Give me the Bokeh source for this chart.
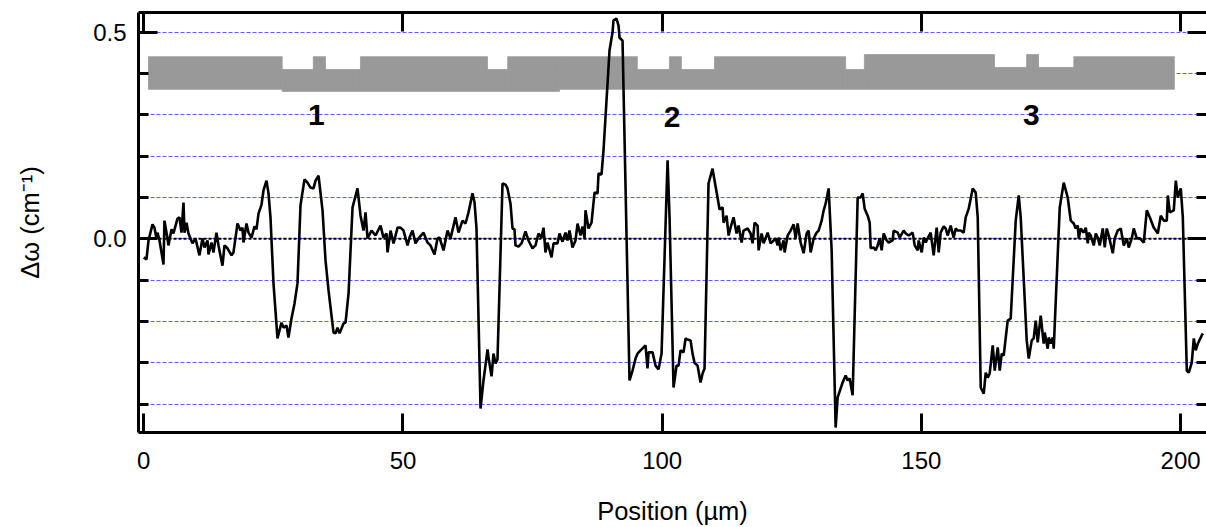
from bokeh.plotting import figure
from bokeh.models import (Range1d, LinearAxis, SingleIntervalTicker,
                          PrintfTickFormatter, Span, ColumnDataSource)
from bokeh.core.properties import value
from bokeh.embed import file_html
from bokeh.resources import INLINE

# ---------------- data: Raman shift profile ----------------
pos_a = [0.00, 0.52, 0.91, 1.68, 2.06, 2.45, 2.64, 3.03, 3.80, 3.99,
         4.57, 4.76, 5.34, 5.72, 6.50, 6.89, 7.27, 7.66, 7.85, 8.24,
         8.62, 9.39, 9.97, 10.74, 11.32, 11.71, 12.29, 12.48, 13.06, 13.44,
         14.02, 14.41, 15.18, 15.57, 16.15, 16.92, 17.30, 18.08, 18.66, 19.04,
         19.23, 19.81, 20.20, 20.78, 21.36, 21.74, 22.13, 22.71, 23.09, 23.67,
         24.06, 24.44, 25.02, 25.79, 26.56, 26.95, 27.53, 27.91, 28.49, 29.07,
         29.65, 30.23, 31.00, 31.58, 32.16, 32.74, 33.13, 33.71, 34.48, 35.06,
         35.64, 36.60, 36.99, 37.37, 37.76, 38.53, 38.92, 39.50, 40.27, 41.23,
         41.81, 42.39, 42.77, 43.16, 43.93, 44.70, 45.67, 46.24, 46.82, 47.02,
         47.60, 48.18, 48.95]
shift_a = [-0.045, -0.050, -0.004, 0.035, 0.027, 0.001, 0.015, -0.004, -0.062, 0.044,
           0.001, -0.016, 0.023, 0.013, 0.049, 0.052, 0.015, 0.088, 0.015, 0.039,
           0.013, -0.011, 0.001, -0.040, 0.001, -0.021, -0.004, -0.038, -0.009, -0.033,
           0.015, -0.016, -0.065, -0.016, -0.023, -0.040, -0.033, 0.037, 0.020, 0.027,
           -0.009, 0.037, 0.015, 0.003, 0.030, 0.023, 0.061, 0.083, 0.117, 0.141,
           0.110, 0.052, -0.108, -0.241, -0.203, -0.215, -0.210, -0.239, -0.193, -0.157,
           -0.108, 0.081, 0.144, 0.136, 0.124, 0.122, 0.141, 0.153, 0.069, -0.053,
           -0.125, -0.227, -0.229, -0.215, -0.229, -0.205, -0.203, -0.132, 0.076, 0.122,
           0.056, 0.020, 0.064, 0.001, 0.020, 0.008, 0.032, 0.003, 0.013, -0.033,
           0.020, -0.011, 0.027]

pos_b = [49.52, 50.10, 50.88, 51.26, 51.84, 52.42, 53.00,
         53.96, 54.73, 55.31, 56.08, 56.66, 57.05, 57.82, 58.59, 59.17, 60.13,
         60.71, 61.48, 62.06, 62.64, 63.41, 63.80, 64.18, 64.96, 65.53, 66.31,
         66.50, 67.08, 67.46, 67.85, 68.23, 69.20, 69.78, 70.16, 70.74, 71.13,
         71.51, 71.70, 72.28, 72.86, 73.25, 73.63, 74.21, 74.98, 75.56, 76.14,
         76.72, 77.11, 77.49, 77.88, 78.65, 79.04, 79.81, 80.19, 80.77, 81.35,
         81.74, 82.12, 82.70, 83.28, 83.67, 84.25, 84.63, 85.02, 85.21, 85.79,
         86.37, 86.95, 87.53, 87.72, 88.30, 88.68, 89.84, 90.42, 90.61, 91.19,
         91.58, 91.77, 92.35, 93.70, 94.28, 94.86, 95.24, 95.82, 96.40, 96.79,
         97.17, 97.37, 98.14, 98.72, 99.30, 99.88, 101.04, 101.42, 102.19, 102.77,
         103.16, 103.54, 104.12, 104.51, 104.89, 105.47, 105.86, 106.24, 106.82, 107.40,
         107.79, 108.17, 108.94, 109.71, 110.10, 110.68, 111.07, 111.65, 111.84, 112.42,
         112.81, 113.19, 113.77, 114.35, 114.74, 115.32, 115.70, 116.48, 117.05, 117.44,
         117.83, 118.41, 118.60, 119.18, 119.57, 120.34, 120.92, 121.50, 121.88, 122.27,
         122.46, 122.85, 123.43, 123.62, 124.20, 124.78, 125.36, 125.74, 126.13, 126.71]
shift_b = [0.027, 0.020, -0.016, 0.003, 0.020, -0.011, 0.001,
           0.015, -0.009, -0.016, -0.038, 0.001, 0.003, -0.028, 0.020, 0.001, 0.052,
           0.015, 0.044, 0.037, 0.064, 0.110, 0.088, 0.025, -0.411, -0.343, -0.268,
           -0.287, -0.333, -0.278, -0.302, -0.292, 0.134, 0.131, 0.122, 0.085, 0.025,
           0.023, -0.016, -0.019, -0.011, 0.003, 0.018, -0.004, -0.023, -0.016, 0.013,
           0.003, 0.027, -0.033, -0.009, -0.045, -0.011, -0.011, 0.013, -0.007, 0.015,
           -0.004, 0.020, -0.021, -0.004, 0.037, 0.008, 0.030, 0.001, 0.069, 0.025,
           0.039, 0.112, 0.110, 0.158, 0.156, 0.214, 0.456, 0.500, 0.529, 0.533,
           0.516, 0.487, 0.480, -0.343, -0.319, -0.290, -0.278, -0.270, -0.263, -0.258,
           -0.314, -0.275, -0.275, -0.307, -0.316, -0.278, 0.190, 0.052, -0.360, -0.307,
           -0.307, -0.270, -0.275, -0.241, -0.244, -0.246, -0.278, -0.300, -0.307, -0.348,
           -0.326, -0.314, 0.134, 0.170, 0.141, 0.100, 0.071, 0.076, 0.039, 0.056,
           0.008, 0.027, 0.052, 0.013, 0.032, -0.009, 0.020, 0.025, 0.013, -0.011,
           0.039, 0.032, -0.028, 0.013, -0.011, 0.015, -0.011, -0.004, 0.001, -0.016,
           0.003, -0.028, -0.004, -0.033, 0.008, 0.020, 0.035, 0.001, 0.037, -0.009]

pos_c = [127.29, 127.86, 128.25, 128.64, 129.22, 129.79, 130.18, 130.76, 131.15, 131.53,
         132.11, 132.69, 133.46, 133.85, 134.81, 135.39, 135.78, 136.16, 136.74, 137.71,
         138.29, 138.67, 139.06, 139.64, 140.03, 140.22, 140.80, 141.18, 141.57, 141.95,
         142.34, 142.73, 143.31, 143.69, 144.46, 144.65, 145.43, 145.81, 146.58, 146.97,
         147.55, 148.32, 148.71, 149.29, 149.48, 150.06, 150.44, 150.83, 151.22, 151.79,
         152.37, 152.95, 153.34, 153.72, 154.30, 154.69, 155.07, 155.65, 156.23, 156.62,
         157.00, 157.58, 158.16, 158.55, 159.13, 159.90, 160.48, 160.87, 161.45, 162.03,
         162.41, 162.80, 163.18, 163.76, 164.15, 164.73, 165.11, 165.50, 165.88, 166.65,
         167.23, 168.20, 168.78, 169.16, 170.32, 170.71, 171.29, 171.67, 172.06, 172.44,
         173.02, 173.60, 173.79, 174.37, 174.57, 174.95, 175.34, 175.53, 176.69, 177.46,
         178.23, 178.81, 179.39, 179.78, 180.16, 180.36, 180.74, 181.32, 181.71, 182.09,
         182.29, 182.67, 183.25, 183.64, 184.02, 184.41, 184.99, 185.37, 185.76, 186.14,
         186.92, 187.30, 187.88, 188.46, 189.04, 189.62, 190.00, 190.58, 190.97, 191.55,
         192.13, 192.90, 193.48, 194.06, 194.83, 195.22, 195.60, 196.18, 196.76, 197.34,
         197.54, 197.92, 198.69, 199.08, 199.46, 200.04, 200.43, 201.20, 201.58, 202.16,
         202.55, 202.93, 203.32, 204.28]
shift_c = [-0.035, 0.013, 0.020, -0.033, 0.001, 0.015, 0.020, 0.044, 0.069, 0.085,
           0.122, -0.028, -0.457, -0.384, -0.348, -0.331, -0.343, -0.338, -0.379, 0.100,
           0.100, 0.110, 0.073, 0.056, 0.039, -0.023, -0.021, -0.028, -0.016, 0.001,
           -0.028, 0.013, -0.004, -0.009, -0.004, 0.020, 0.015, 0.003, 0.020, 0.013,
           0.008, 0.015, -0.016, -0.028, -0.004, -0.033, 0.003, -0.009, 0.001, 0.015,
           -0.040, 0.027, -0.033, 0.015, 0.030, 0.025, 0.008, 0.032, 0.003, 0.025,
           0.020, 0.020, 0.015, 0.052, 0.073, 0.122, 0.112, 0.052, -0.360, -0.375,
           -0.324, -0.336, -0.326, -0.258, -0.319, -0.263, -0.319, -0.278, -0.283, -0.198,
           -0.193, 0.044, 0.105, 0.052, -0.246, -0.290, -0.246, -0.241, -0.198, -0.251,
           -0.186, -0.254, -0.227, -0.266, -0.239, -0.254, -0.239, -0.266, 0.076, 0.136,
           0.100, 0.044, 0.037, 0.025, 0.032, 0.001, 0.025, 0.015, 0.027, -0.011,
           0.015, 0.008, -0.016, 0.013, 0.003, -0.016, 0.025, -0.021, 0.025, 0.008,
           -0.035, 0.001, 0.020, 0.025, -0.016, 0.001, -0.021, 0.001, 0.025, 0.001,
           0.001, -0.009, 0.069, 0.052, 0.027, 0.020, 0.013, 0.056, 0.044, 0.044,
           0.105, 0.064, 0.069, 0.141, 0.100, 0.122, 0.052, -0.319, -0.324, -0.300,
           -0.241, -0.270, -0.254, -0.229]

# ---------------- data: schematic of the structure (gray blocks) ----------------
block_left = [0.9, 26.7, 32.7, 35.05, 41.8, 66.3, 70.2, 80.2, 95.2,
              101.4, 103.7, 110.1, 135.4, 139.0, 164.1, 170.3, 172.6, 179.4]
block_right = [26.7, 32.7, 35.05, 41.8, 66.3, 70.2, 80.2, 95.2, 101.4,
               103.7, 110.1, 135.4, 139.0, 164.1, 170.3, 172.6, 179.4, 198.8]
block_top = [0.441, 0.410, 0.441, 0.410, 0.441, 0.410, 0.441, 0.441, 0.410,
             0.441, 0.410, 0.441, 0.410, 0.446, 0.415, 0.446, 0.415, 0.441]
block_bottom = [0.362, 0.357, 0.357, 0.357, 0.357, 0.357, 0.357, 0.362, 0.362,
                0.362, 0.362, 0.362, 0.362, 0.362, 0.362, 0.362, 0.362, 0.362]

# ---------------- data: region labels ----------------
region_text = ["1", "2", "3"]
region_x = [33.3, 101.9, 171.2]
region_y = [0.301, 0.294, 0.301]

x_tick_step = 50
y_tick_step = 0.5
y_grid_step = 0.1

position = pos_a + pos_b + pos_c
shift = shift_a + shift_b + shift_c

FONT = "Liberation Sans"

p = figure(width=1206, height=527, output_backend="svg", toolbar_location=None,
           x_range=Range1d(-1.02, 205.0), y_range=Range1d(-0.469, 0.548),
           min_border_left=138, min_border_right=0, min_border_top=12,
           min_border_bottom=95,
           x_axis_label="Position (µm)", y_axis_label="Δω (cm⁻¹)")
p.outline_line_color = None
p.background_fill_color = "white"
p.border_fill_color = "white"

p.xgrid.visible = False
p.ygrid.ticker = SingleIntervalTicker(interval=y_grid_step)
p.ygrid.grid_line_color = "#5c5cff"
p.ygrid.grid_line_dash = "4 2"
p.ygrid.grid_line_width = 1


def style(ax, show_labels=True, show_line=True):
    ax.axis_line_width = 3
    ax.axis_line_color = "black" if show_line else None
    ax.major_tick_line_width = 3
    ax.minor_tick_line_width = 3
    ax.major_tick_line_color = "black"
    ax.minor_tick_line_color = "black"
    ax.major_tick_out = 0
    ax.minor_tick_out = 0
    ax.major_tick_in = 19
    ax.minor_tick_in = 10
    ax.major_label_text_font = FONT
    if show_labels:
        ax.major_label_text_font_size = "24px"
        ax.major_label_text_color = "black"
    else:
        ax.major_label_text_font_size = "1px"
        ax.major_label_text_color = None
        ax.major_label_standoff = 0
    ax.axis_label_text_font = FONT
    ax.axis_label_text_font_size = "25.5px"
    ax.axis_label_text_font_style = "normal"
    ax.axis_label_text_color = "black"


xb = p.xaxis[0]
xb.ticker = SingleIntervalTicker(interval=x_tick_step, num_minor_ticks=0)
style(xb)
xb.major_label_standoff = 19
xb.axis_label_standoff = 25

yl = p.yaxis[0]
yl.ticker = SingleIntervalTicker(interval=y_tick_step, num_minor_ticks=5)
yl.formatter = PrintfTickFormatter(format="%.1f")
style(yl)
yl.major_label_standoff = 12
yl.axis_label_standoff = 46

xt = LinearAxis(ticker=SingleIntervalTicker(interval=x_tick_step, num_minor_ticks=0))
style(xt, show_labels=False)
p.add_layout(xt, "above")

yr = LinearAxis(ticker=SingleIntervalTicker(interval=y_tick_step, num_minor_ticks=5))
style(yr, show_labels=False, show_line=False)
p.add_layout(yr, "right")

zero = Span(location=0, dimension="width", line_color="black",
            line_width=2, line_dash="3 2", level="underlay")
p.add_layout(zero)

blocks = ColumnDataSource(dict(left=block_left, right=block_right,
                               top=block_top, bottom=block_bottom))
p.quad(left="left", right="right", top="top", bottom="bottom", source=blocks,
       fill_color="#999999", line_color="#999999", line_width=0.8)

p.line(position, shift, line_color="black", line_width=2.6)

labels = ColumnDataSource(dict(x=region_x, y=region_y, t=region_text))
p.text(x="x", y="y", text="t", source=labels, text_font=value(FONT),
       text_font_style="bold", text_font_size="30px", text_align="center",
       text_baseline="middle", text_color="black")

open("out.html", "w").write(file_html(p, INLINE))
